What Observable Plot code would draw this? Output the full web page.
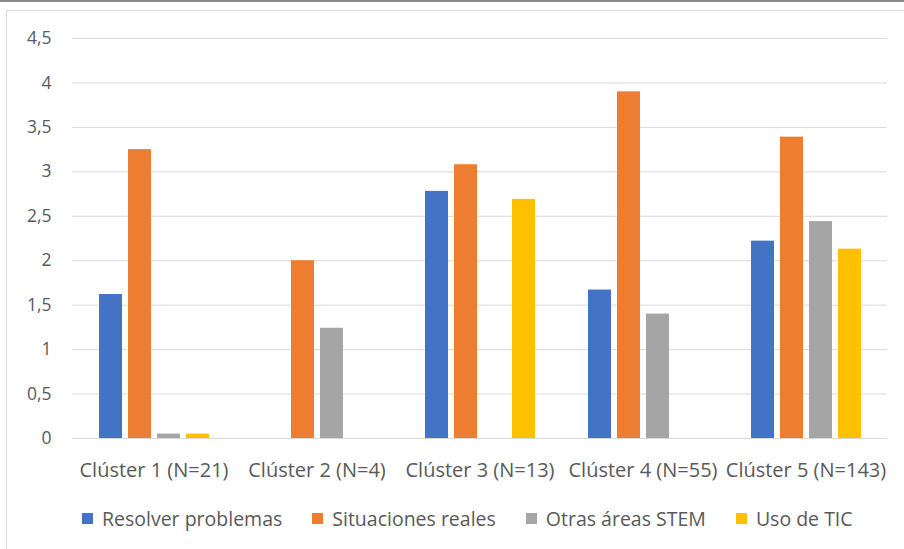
<!DOCTYPE html>
<html>
<head>
<meta charset="utf-8">
<script src="https://cdn.jsdelivr.net/npm/d3@7"></script>
<script src="https://cdn.jsdelivr.net/npm/@observablehq/plot@0.6"></script>
<style>
  html, body { margin: 0; padding: 0; background: #fff; }
  body { width: 904px; height: 549px; position: relative; overflow: hidden; font-family: "Open Sans", sans-serif; }
  #topline { position: absolute; left: 0; top: 0; width: 904px; height: 2px; background: #8a8a8a; }
  #frame { position: absolute; left: 6px; top: 10px; width: 940px; height: 600px; border: 1px solid #d9d9d9; box-sizing: border-box; }
  #chart { position: absolute; left: 0; top: 0; }
  #chart svg [aria-label^="y-axis"] text { font-size: 17.5px; fill: #595959; }
  #chart svg [aria-label^="fx-axis"] text { font-size: 20px; fill: #595959; }
  #legend { position: absolute; left: 82px; top: 505px; display: flex; align-items: center; font-size: 19.5px; color: #595959; white-space: nowrap; }
  .item { display: flex; align-items: center; margin-right: 30px; }
  .sw { width: 11px; height: 11px; margin-right: 9px; }
</style>
</head>
<body>
<div id="topline"></div>
<div id="frame"></div>
<div id="chart"></div>
<div id="legend"></div>
<script>
const clusters = ["Clúster 1 (N=21)", "Clúster 2 (N=4)", "Clúster 3 (N=13)", "Clúster 4 (N=55)", "Clúster 5 (N=143)"];
const seriesNames = ["Resolver problemas", "Situaciones reales", "Otras áreas STEM", "Uso de TIC"];
const resolverProblemas = [1.62, 0, 2.78, 1.67, 2.22];
const situacionesReales = [3.25, 2.00, 3.08, 3.90, 3.39];
const otrasAreasSTEM = [0.05, 1.24, 0, 1.40, 2.44];
const usoDeTIC = [0.05, 0, 2.69, 0, 2.13];
const seriesColors = ["#4472C4", "#ED7D31", "#A5A5A5", "#FFC000"];
const yTicks = [0, 0.5, 1, 1.5, 2, 2.5, 3, 3.5, 4, 4.5];

const seriesValues = [resolverProblemas, situacionesReales, otrasAreasSTEM, usoDeTIC];
const rows = [];
clusters.forEach((c, i) => {
  seriesNames.forEach((s, j) => {
    rows.push({cluster: c, series: s, value: seriesValues[j][i]});
  });
});

const fmt = d => String(d).replace(".", ",");

const chart = Plot.plot({
  width: 904,
  height: 490,
  marginLeft: 71,
  marginRight: 17,
  marginTop: 38,
  marginBottom: 52,
  style: {fontFamily: "'Open Sans', sans-serif", color: "#595959", background: "transparent", overflow: "visible"},
  fx: {domain: clusters, padding: 0, label: null, tickSize: 0, tickPadding: 24, axis: "bottom"},
  x: {domain: seriesNames, axis: null, paddingInner: 0.215, paddingOuter: 0.8975},
  y: {domain: [0, 4.5], ticks: yTicks, tickFormat: fmt, tickSize: 0, tickPadding: 21, label: null},
  color: {domain: seriesNames, range: seriesColors},
  marks: [
    Plot.ruleY(yTicks, {stroke: "#d9d9d9", strokeWidth: 1}),
    Plot.barY(rows, {fx: "cluster", x: "series", y: "value", fill: "series"})
  ]
});
document.getElementById("chart").appendChild(chart);

const legend = document.getElementById("legend");
seriesNames.forEach((s, j) => {
  const item = document.createElement("div");
  item.className = "item";
  const sw = document.createElement("div");
  sw.className = "sw";
  sw.style.background = seriesColors[j];
  const t = document.createElement("span");
  t.textContent = s;
  item.appendChild(sw);
  item.appendChild(t);
  legend.appendChild(item);
});
</script>
</body>
</html>
